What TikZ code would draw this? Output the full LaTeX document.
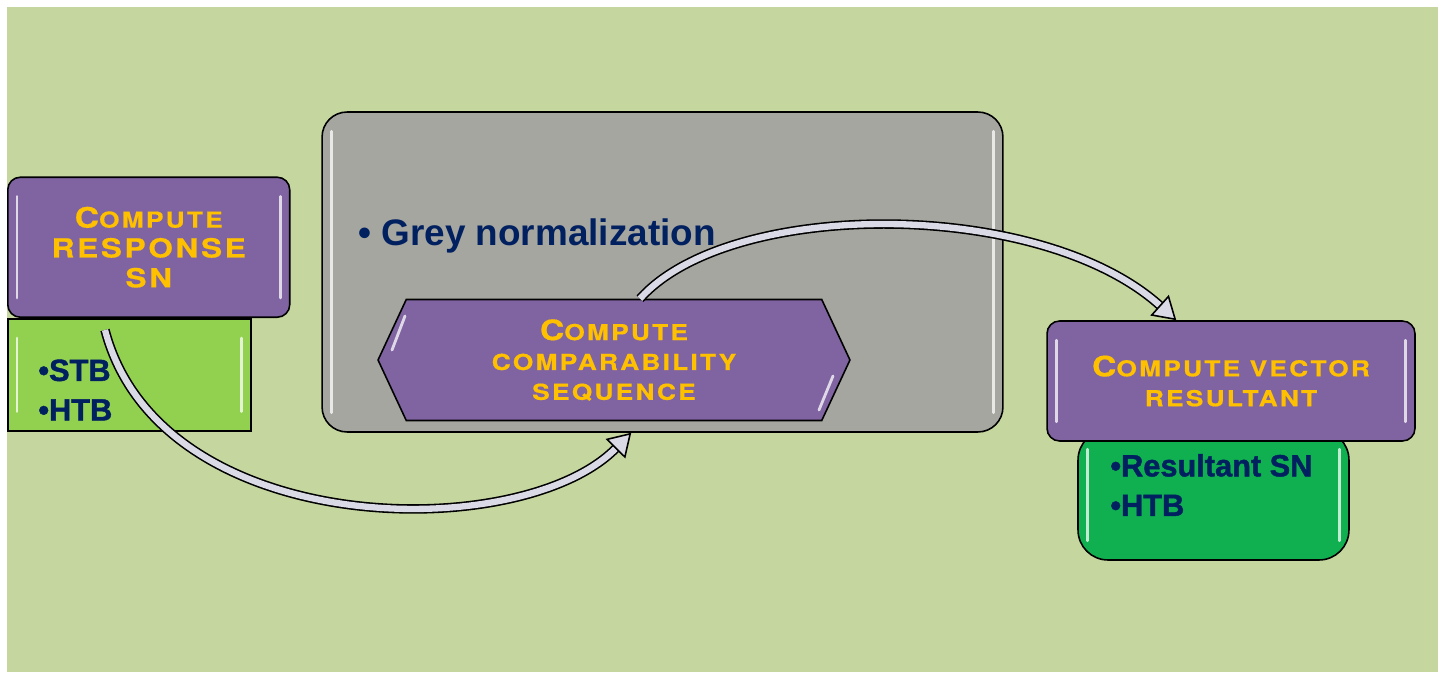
\documentclass[tikz,border=0pt]{standalone}
\usepackage{fontspec}
\setmainfont{Liberation Sans}
\newfontfamily\cpfont[FakeStretch=1.2, LetterSpace=10, FakeBold=0.6]{TeX Gyre Heros}
\newfontfamily\heavyfont[FakeBold=1.4]{Liberation Sans}
\usetikzlibrary{positioning, arrows.meta, shapes.symbols}

\definecolor{bgGreen}{RGB}{197,214,159}
\definecolor{boxPurple}{RGB}{128,100,162}
\definecolor{capsGold}{RGB}{255,192,0}
\definecolor{textNavy}{RGB}{0,32,96}
\definecolor{greyPanel}{RGB}{166,166,160}
\definecolor{limeGreen}{RGB}{146,208,80}
\definecolor{darkGreen}{RGB}{16,176,80}
\definecolor{arrowFill}{RGB}{218,218,230}

\newcommand{\firstcap}[1]{{\fontsize{16}{17}\selectfont #1}}

\begin{document}
\begin{tikzpicture}[x=0.02cm, y=-0.02cm,
    purplebox/.style={draw=black, line width=0.9pt, fill=boxPurple, rounded corners=0.25cm,
        text=capsGold, align=center, font=\cpfont\bfseries\fontsize{12.5}{17}\selectfont},
    listbox/.style={draw=black, line width=0.9pt},
    listtext/.style={text=textNavy, font=\heavyfont\bfseries\fontsize{17.5}{22.5}\selectfont, align=left, inner sep=0pt},
    flowarrow/.style={draw=black, line width=0.9pt, double=arrowFill, double distance=3.6pt,
        -{Triangle[length=0.45cm, width=0.55cm, fill=arrowFill]}},
    glint/.style={white, line width=1.6pt, opacity=0.75, line cap=round}]
    \useasboundingbox (0,0) rectangle (1445,679);
    \fill [white] (0,0) rectangle (1445,679);
    \fill [bgGreen] (7,7) rectangle (1438,672);

    % left column
    \node (stbbox) [listbox, fill=limeGreen, minimum width=4.86cm, minimum height=2.24cm, anchor=north west] at (7,318) {};
    \node (stbtext) [listtext, anchor=west] at (38,390) {\textbullet STB\\\textbullet HTB};
    \node (respbox) [purplebox, minimum width=5.64cm, minimum height=2.8cm, anchor=south west,
        font=\cpfont\bfseries\fontsize{15}{17}\selectfont] at (stbbox.north west)
        {\firstcap{C}{\fontsize{12.5}{17}\selectfont OMPUTE}\\RESPONSE\\SN};

    % middle panel
    \node (greypanel) [draw=black, line width=0.9pt, fill=greyPanel, rounded corners=0.5cm,
        minimum width=13.62cm, minimum height=6.4cm] at (662.5,272) {};
    \node (greytext) [anchor=west, text=textNavy, font=\bfseries\fontsize{21}{24}\selectfont, inner sep=0pt]
        at (358,236) {\textbullet\ Grey normalization};
    \node (compbox) [purplebox, signal, signal to=east and west, signal pointer angle=130, rounded corners=0pt,
        minimum width=9.44cm, minimum height=2.42cm, inner sep=0pt] at (614,360)
        {\firstcap{C}OMPUTE\\COMPARABILITY\\SEQUENCE};

    % right column
    \node (resbox) [listbox, fill=darkGreen, rounded corners=0.6cm, minimum width=5.42cm, minimum height=2.6cm] at (1213.5,495) {};
    \node (restext) [listtext, anchor=west] at (1110,485) {\textbullet Resultant SN\\\textbullet HTB};
    \node (vecbox) [purplebox, minimum width=7.36cm, minimum height=2.4cm] at (1231,381)
        {\firstcap{C}OMPUTE VECTOR\\RESULTANT};

    % glassy edges
    \foreach \b in {stbbox, respbox, greypanel, resbox, vecbox} {
        \draw [glint] ([xshift=0.2cm, yshift=-0.4cm]\b.north west) -- ([xshift=0.2cm, yshift=0.4cm]\b.south west);
        \draw [glint] ([xshift=-0.2cm, yshift=-0.4cm]\b.north east) -- ([xshift=-0.2cm, yshift=0.4cm]\b.south east);
    }
    \draw [glint] (405,316) -- (392,350);
    \draw [glint] (833,376) -- (819,410);

    % arrows
    \coordinate (arrowstart) at (105,330);
    \draw [flowarrow] (arrowstart) .. controls (160,540) and (520,545) .. (greypanel.259);
    \draw [flowarrow] (compbox.67) .. controls (730,198) and (1040,198) .. (vecbox.132);
\end{tikzpicture}
\end{document}
